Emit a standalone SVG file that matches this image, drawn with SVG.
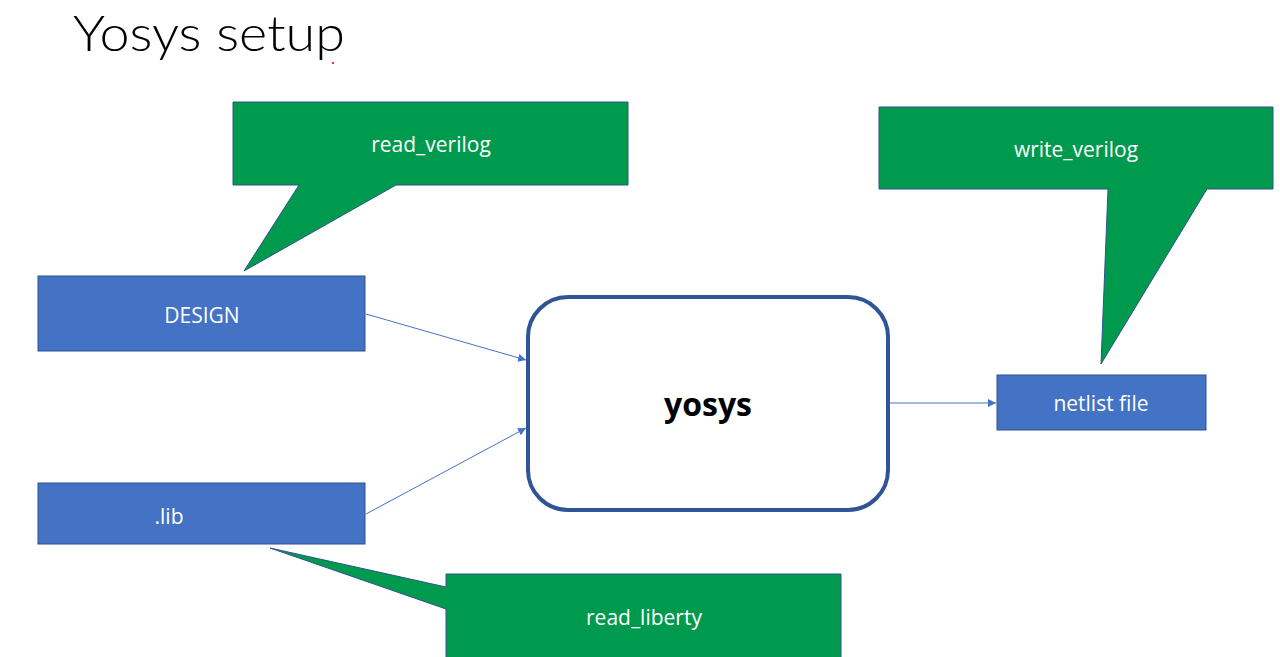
<svg xmlns="http://www.w3.org/2000/svg" width="1280" height="657" viewBox="0 0 1280 657">
<defs>
<style>
.blue{fill:#4472C4;stroke:#2F528F;stroke-width:1}
.green{fill:#009A4E;stroke:#2F528F;stroke-width:1}
.lbl{font-family:"Open Sans","Liberation Sans",sans-serif;font-size:21px;fill:#FFFFFF;text-anchor:middle}
.conn{stroke:#4472C4;stroke-width:1;fill:none}
</style>
<marker id="ah" viewBox="0 0 10 10" refX="10" refY="5" markerWidth="8" markerHeight="8" markerUnits="userSpaceOnUse" orient="auto">
<path d="M0,0 L10,5 L0,10 z" fill="#4472C4"/>
</marker>
</defs>
<rect width="1280" height="657" fill="#FFFFFF"/>
<text x="73" y="51" font-family="Lato,'Open Sans','Liberation Sans',sans-serif" font-weight="300" font-size="50" fill="#000000" textLength="272" lengthAdjust="spacingAndGlyphs">Yosys setup</text>
<circle cx="333" cy="63" r="1" fill="#C00000"/>
<g id="callout-read-verilog">
<path class="green" d="M233,102 H628 V185 H396 L244,271 L299,185 H233 Z"/>
<text class="lbl" x="431" y="152">read_verilog</text>
</g>
<g id="callout-write-verilog">
<path class="green" d="M879,107 H1273 V189 H1207 L1101,364 L1108,189 H879 Z"/>
<text class="lbl" x="1076" y="157">write_verilog</text>
</g>
<g id="callout-read-liberty">
<path class="green" d="M446,574 H841 V660 H446 V609 L270,548 L446,587 Z"/>
<text class="lbl" x="644" y="625">read_liberty</text>
</g>
<g id="design">
<rect class="blue" x="38" y="276" width="327" height="75"/>
<text class="lbl" x="202" y="323">DESIGN</text>
</g>
<g id="lib">
<rect class="blue" x="38" y="483" width="327" height="61"/>
<text class="lbl" x="169" y="524">.lib</text>
</g>
<g id="netlist">
<rect class="blue" x="997" y="375" width="209" height="55"/>
<text class="lbl" x="1101" y="411">netlist file</text>
</g>
<g id="yosys">
<rect x="528" y="297" width="360" height="213" rx="40" ry="40" fill="#FFFFFF" stroke="#2F5597" stroke-width="4"/>
<text x="708" y="416" font-family="'Open Sans','Liberation Sans',sans-serif" font-weight="bold" font-size="32" fill="#000000" text-anchor="middle">yosys</text>
</g>
<g id="connectors">
<line class="conn" x1="366" y1="314" x2="526" y2="360" marker-end="url(#ah)"/>
<line class="conn" x1="366" y1="514" x2="526" y2="428" marker-end="url(#ah)"/>
<line class="conn" x1="890" y1="403" x2="996" y2="403" marker-end="url(#ah)"/>
</g>
</svg>
